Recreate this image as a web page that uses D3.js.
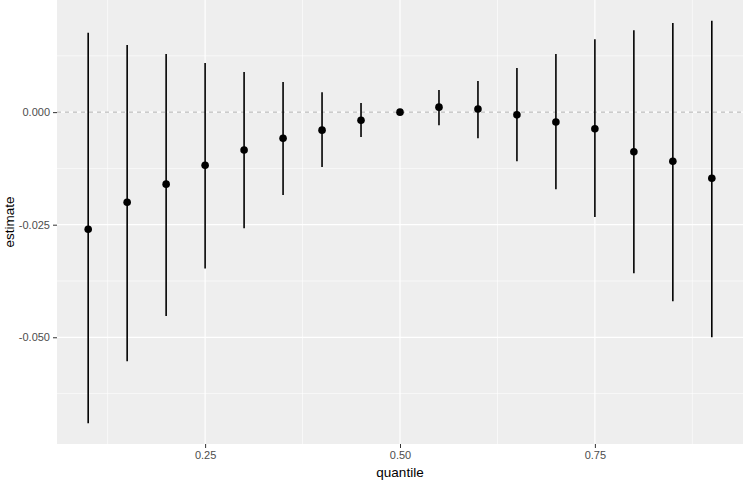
<!DOCTYPE html>
<html>
<head>
<meta charset="utf-8">
<script src="https://cdn.jsdelivr.net/npm/d3@7"></script>
<style>
  body { margin: 0; background: #fff; }
  svg { display: block; font-family: "Liberation Sans", Arial, sans-serif; }
</style>
</head>
<body>
<div id="chart-area"></div>
<script>
// quantile regression estimates with intervals
var quantiles = [0.10, 0.15, 0.20, 0.25, 0.30, 0.35, 0.40, 0.45, 0.50,
                 0.55, 0.60, 0.65, 0.70, 0.75, 0.80, 0.85, 0.90];
var estimates = [-0.0260, -0.0200, -0.0160, -0.0118, -0.0084, -0.0058, -0.0040, -0.0018, 0.0000,
                 0.0011, 0.0007, -0.0006, -0.0022, -0.0037, -0.0088, -0.0109, -0.0147];
var upper = [0.0176, 0.0149, 0.0129, 0.0109, 0.0089, 0.0067, 0.0044, 0.0020, 0.0001,
             0.0049, 0.0069, 0.0098, 0.0129, 0.0162, 0.0182, 0.0198, 0.0203];
var lower = [-0.0691, -0.0553, -0.0453, -0.0347, -0.0258, -0.0184, -0.0122, -0.0055, -0.0001,
             -0.0029, -0.0058, -0.0109, -0.0171, -0.0233, -0.0358, -0.0420, -0.0500];

var xTicks = [0.25, 0.50, 0.75];
var xMinor = [0.125, 0.375, 0.625, 0.875];
var yTicks = [0.000, -0.025, -0.050];
var yMinor = [0.0125, -0.0125, -0.0375, -0.0625];

var data = quantiles.map(function(q, i) {
  return { q: q, est: estimates[i], lo: lower[i], hi: upper[i] };
});

var margin = { top: 0, right: 1, bottom: 36, left: 57 };
var width = 744 - margin.left - margin.right,
    height = 480 - margin.top - margin.bottom;

var svg = d3.select("#chart-area").append("svg")
    .attr("width", 744)
    .attr("height", 480);

var g = svg.append("g")
    .attr("transform", "translate(" + margin.left + "," + margin.top + ")");

var x = d3.scaleLinear()
    .domain([0.06, 0.94])
    .range([0, width]);

var y = d3.scaleLinear()
    .domain([-0.0737, 0.0249])
    .range([height, 0]);

// plain hyphen for negatives, like R does
var fmtY = function(d) { return d3.format(".3f")(d).replace("\u2212", "-"); };

// panel
g.append("rect")
    .attr("width", width)
    .attr("height", height)
    .attr("fill", "#eeeeee");

// minor grid
g.selectAll(".x-minor").data(xMinor).enter().append("line")
    .attr("x1", function(d) { return x(d); })
    .attr("x2", function(d) { return x(d); })
    .attr("y1", 0).attr("y2", height)
    .attr("stroke", "#fff").attr("stroke-width", 0.6);

g.selectAll(".y-minor").data(yMinor).enter().append("line")
    .attr("x1", 0).attr("x2", width)
    .attr("y1", function(d) { return y(d); })
    .attr("y2", function(d) { return y(d); })
    .attr("stroke", "#fff").attr("stroke-width", 0.6);

// major grid
g.selectAll(".x-major").data(xTicks).enter().append("line")
    .attr("x1", function(d) { return x(d); })
    .attr("x2", function(d) { return x(d); })
    .attr("y1", 0).attr("y2", height)
    .attr("stroke", "#fff").attr("stroke-width", 1.2);

g.selectAll(".y-major").data(yTicks).enter().append("line")
    .attr("x1", 0).attr("x2", width)
    .attr("y1", function(d) { return y(d); })
    .attr("y2", function(d) { return y(d); })
    .attr("stroke", "#fff").attr("stroke-width", 1.2);

// zero reference line
g.append("line")
    .attr("x1", 0).attr("x2", width)
    .attr("y1", y(0)).attr("y2", y(0))
    .attr("stroke", "#9a9a9a")
    .attr("stroke-width", 0.8)
    .attr("stroke-dasharray", "4,4");

// axes
var xAxis = d3.axisBottom(x)
    .tickValues(xTicks)
    .tickFormat(d3.format(".2f"))
    .tickSize(4)
    .tickPadding(3);

var yAxis = d3.axisLeft(y)
    .tickValues(yTicks)
    .tickFormat(fmtY)
    .tickSize(4)
    .tickPadding(3);

var gx = g.append("g")
    .attr("transform", "translate(0," + height + ")")
    .call(xAxis);

var gy = g.append("g").call(yAxis);

[gx, gy].forEach(function(ax) {
  ax.select(".domain").remove();
  ax.selectAll(".tick line").attr("stroke", "#333").attr("stroke-width", 1);
  ax.selectAll(".tick text")
    .attr("fill", "#4d4d4d")
    .style("font-size", "11px")
    .style("font-family", "'Liberation Sans', Arial, sans-serif");
});

// point ranges
g.selectAll(".range").data(data).enter().append("line")
    .attr("class", "range")
    .attr("x1", function(d) { return x(d.q); })
    .attr("x2", function(d) { return x(d.q); })
    .attr("y1", function(d) { return y(d.hi); })
    .attr("y2", function(d) { return y(d.lo); })
    .attr("stroke", "#000")
    .attr("stroke-width", 1.6);

g.selectAll(".est").data(data).enter().append("circle")
    .attr("class", "est")
    .attr("cx", function(d) { return x(d.q); })
    .attr("cy", function(d) { return y(d.est); })
    .attr("r", 3.8)
    .attr("fill", "#000");

// axis titles
svg.append("text")
    .attr("x", margin.left + width / 2)
    .attr("y", 477)
    .attr("text-anchor", "middle")
    .style("font-size", "13.5px")
    .attr("fill", "#000")
    .text("quantile");

svg.append("text")
    .attr("transform", "translate(14," + (margin.top + height / 2) + ") rotate(-90)")
    .attr("text-anchor", "middle")
    .style("font-size", "13.5px")
    .attr("fill", "#000")
    .text("estimate");
</script>
</body>
</html>
